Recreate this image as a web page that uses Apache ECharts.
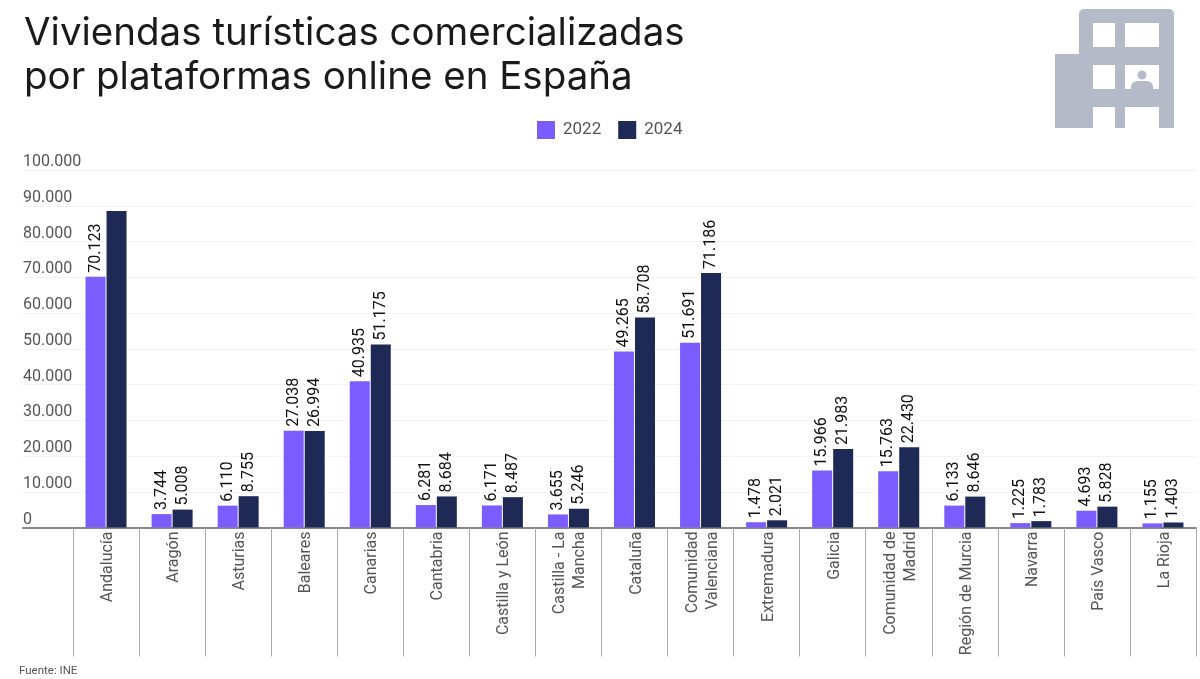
<!DOCTYPE html>
<html><head><meta charset="utf-8">
<style>html,body{margin:0;padding:0;background:#fff}#c{width:1200px;height:679px}</style>
<script src="https://cdn.jsdelivr.net/npm/echarts@6/dist/echarts.min.js"></script>
</head><body><div id="c"></div>
<script>
const categories = ["Andalucía","Aragón","Asturias","Baleares","Canarias","Cantabria","Castilla y León","Castilla - La\nMancha","Cataluña","Comunidad\nValenciana","Extremadura","Galicia","Comunidad de\nMadrid","Región de Murcia","Navarra","País Vasco","La Rioja"];
const values2022 = [70123,3744,6110,27038,40935,6281,6171,3655,49265,51691,1478,15966,15763,6133,1225,4693,1155];
const values2024 = [88500,5008,8755,26994,51175,8684,8487,5246,58708,71186,2021,21983,22430,8646,1783,5828,1403];
const seriesNames = ["2022","2024"];
const unlabeled2024 = ["Andalucía"];
const fmt = v => String(v).replace(/\B(?=(\d{3})+(?!\d))/g, ".");
const labelCfg = {show:true,position:'top',rotate:90,align:'left',verticalAlign:'middle',distance:4,color:'#111',fontFamily:'Roboto',fontSize:16,formatter:p=>fmt(p.value)};
const G='#b4bac8', W='#fff';
const r=(x,y,width,height,fill,rad)=>({type:'rect',shape:{x,y,width,height,r:rad||0},style:{fill}});
const hiddenY = i => ({type:'value',gridIndex:i,min:0,max:100000,interval:10000,axisLine:{show:false},axisTick:{show:false},axisLabel:{show:false},splitLine:{show:false}});
const chart = echarts.init(document.getElementById('c'),null,{renderer:'canvas'});
chart.setOption({
  animation:false,
  backgroundColor:'#fff',
  title:[
    {text:'Viviendas turísticas comercializadas\npor plataformas online en España',left:24,top:11,padding:0,textStyle:{fontFamily:'Inter',fontWeight:400,fontSize:38.5,lineHeight:44,color:'#1a1a1a'}},
    {text:'Fuente: INE',left:19,top:665,padding:0,textStyle:{fontFamily:'Roboto',fontWeight:400,fontSize:11.5,color:'#555'}}
  ],
  legend:{data:seriesNames,top:116,left:532,itemWidth:18,itemHeight:18,itemGap:17,icon:'rect',textStyle:{fontFamily:'Roboto',fontSize:17,color:'#555',padding:[0,0,0,3]}},
  grid:[
    {left:73,right:4,top:170,bottom:151.5},
    {left:23,right:4,top:170,bottom:151.5},
    {left:75,right:2,top:170,bottom:151.5}
  ],
  xAxis:[
    {type:'category',gridIndex:0,data:categories,axisLine:{show:false},axisTick:{show:true,interval:0,length:129,lineStyle:{color:'#aaa',width:1}},axisLabel:{show:false,interval:0}},
    {type:'category',gridIndex:1,data:[''],axisLine:{show:true,lineStyle:{color:'#888',width:2}},axisTick:{show:false},axisLabel:{show:false}},
    {type:'category',gridIndex:2,data:categories,axisLine:{show:false},axisTick:{show:false},
     axisLabel:{interval:0,rotate:90,margin:4,color:'#555',fontFamily:'Roboto',fontSize:16,lineHeight:20}}
  ],
  yAxis:[
    hiddenY(0),
    {type:'value',gridIndex:1,min:0,max:100000,interval:10000,axisLine:{show:false},axisTick:{show:false},splitLine:{show:true,lineStyle:{color:'#f3f3f3',width:1}},
     axisLabel:{inside:true,margin:0,verticalAlign:'bottom',color:'#555',fontFamily:'Roboto',fontSize:16,formatter:v=>fmt(v)}},
    hiddenY(2)
  ],
  series:[
    {name:seriesNames[0],type:'bar',xAxisIndex:0,yAxisIndex:0,barWidth:20,barGap:'5%',z:3,itemStyle:{color:'#7b5cff'},label:labelCfg,data:values2022},
    {name:seriesNames[1],type:'bar',xAxisIndex:0,yAxisIndex:0,barWidth:20,barGap:'5%',z:3,itemStyle:{color:'#1e2a55'},label:labelCfg,
     data:values2024.map((v,i)=>unlabeled2024.includes(categories[i])?{value:v,label:{show:false}}:v)}
  ],
  graphic:[{type:'group',silent:true,children:[
    r(1079,9,95,119,G,[5,5,0,0]),
    r(1055,54,30,74,G),
    r(1093,23,22,24,W), r(1125,23,34,24,W),
    r(1093,65,22,24,W), r(1125,65,34,24,W),
    r(1093,107,22,22,W), r(1125,107,34,22,W),
    {type:'circle',shape:{cx:1142,cy:75,r:4.5},style:{fill:G}},
    r(1131,81,22,8,G,[6,6,0,0])
  ]}]
});
</script></body></html>
